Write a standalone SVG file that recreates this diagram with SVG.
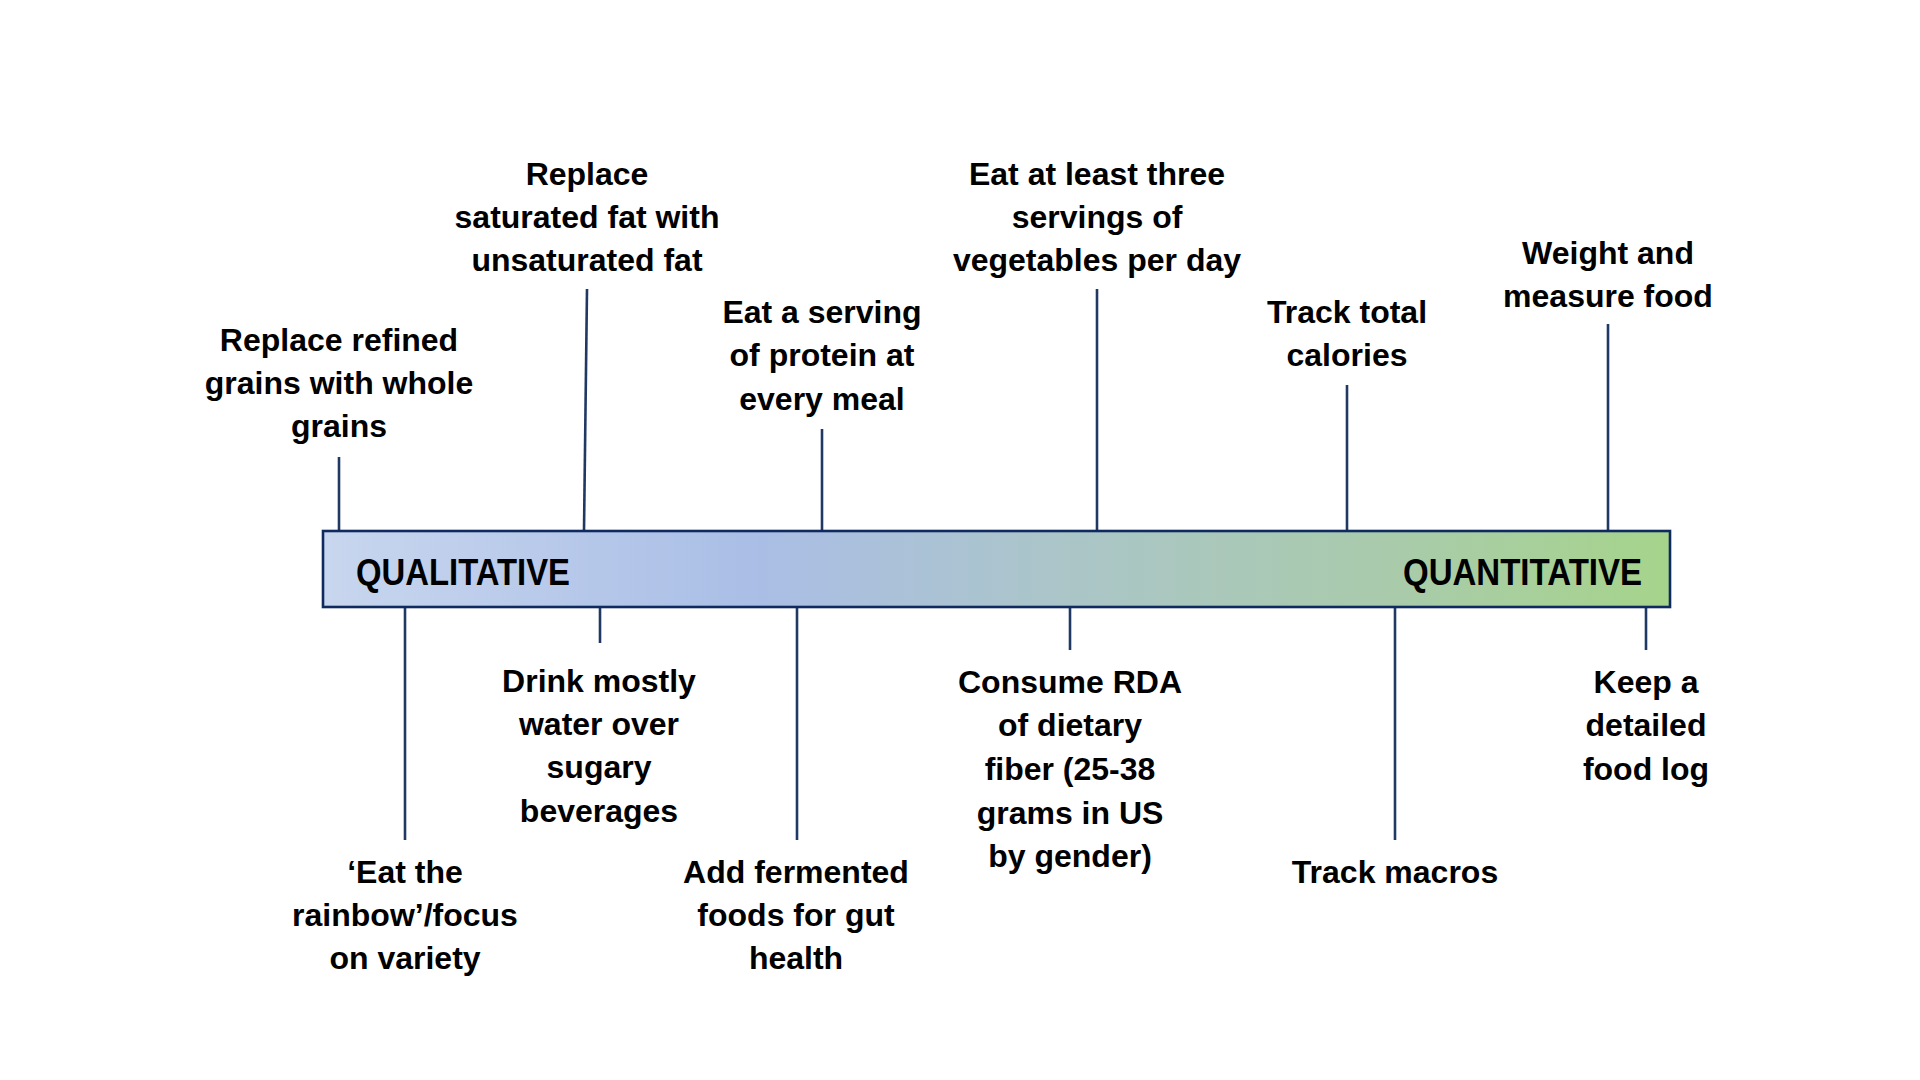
<svg xmlns="http://www.w3.org/2000/svg" width="1920" height="1080" viewBox="0 0 1920 1080">
<style>
.lbl{font-family:"Liberation Sans",Arial,sans-serif;font-weight:bold;font-size:32px;fill:#000;text-anchor:middle}
.end{font-family:"Liberation Sans",Arial,sans-serif;font-weight:bold;font-size:37px;fill:#000}
.tick{stroke:#1f3864;stroke-width:2.6;fill:none}
</style>
<defs>
<linearGradient id="g" x1="0" y1="0" x2="1" y2="0">
<stop offset="0" stop-color="#c8d6ee"/>
<stop offset="0.32" stop-color="#aabee6"/>
<stop offset="0.55" stop-color="#abc5c8"/>
<stop offset="0.8" stop-color="#a9cbaa"/>
<stop offset="1" stop-color="#a6d48b"/>
</linearGradient>
</defs>
<rect width="1920" height="1080" fill="#fff"/>
<g id="connectors">
<line class="tick" x1="339" y1="457" x2="339" y2="531"/>
<line class="tick" x1="587" y1="289" x2="584" y2="531"/>
<line class="tick" x1="822" y1="429" x2="822" y2="531"/>
<line class="tick" x1="1097" y1="289" x2="1097" y2="531"/>
<line class="tick" x1="1347" y1="385" x2="1347" y2="531"/>
<line class="tick" x1="1608" y1="324" x2="1608" y2="531"/>
<line class="tick" x1="405" y1="607" x2="405" y2="840"/>
<line class="tick" x1="600" y1="607" x2="600" y2="643"/>
<line class="tick" x1="797" y1="607" x2="797" y2="840"/>
<line class="tick" x1="1070" y1="607" x2="1070" y2="650"/>
<line class="tick" x1="1395" y1="607" x2="1395" y2="840"/>
<line class="tick" x1="1646" y1="607" x2="1646" y2="650"/>
</g>
<g id="bar">
<rect x="323" y="531" width="1347" height="76" fill="url(#g)" stroke="#0e2a5e" stroke-width="2.6"/>
<text class="end" x="356" y="585" textLength="214" lengthAdjust="spacingAndGlyphs">QUALITATIVE</text>
<text class="end" x="1403" y="585" textLength="239" lengthAdjust="spacingAndGlyphs">QUANTITATIVE</text>
</g>
<g id="n1"><text class="lbl" x="339"><tspan x="339" y="351">Replace refined</tspan><tspan x="339" y="394">grains with whole</tspan><tspan x="339" y="437">grains</tspan></text></g>
<g id="n2"><text class="lbl" x="587"><tspan x="587" y="185">Replace</tspan><tspan x="587" y="228">saturated fat with</tspan><tspan x="587" y="271">unsaturated fat</tspan></text></g>
<g id="n3"><text class="lbl" x="822"><tspan x="822" y="323">Eat a serving</tspan><tspan x="822" y="366">of protein at</tspan><tspan x="822" y="410">every meal</tspan></text></g>
<g id="n4"><text class="lbl" x="1097"><tspan x="1097" y="185">Eat at least three</tspan><tspan x="1097" y="228">servings of</tspan><tspan x="1097" y="271">vegetables per day</tspan></text></g>
<g id="n5"><text class="lbl" x="1347"><tspan x="1347" y="323">Track total</tspan><tspan x="1347" y="366">calories</tspan></text></g>
<g id="n6"><text class="lbl" x="1608"><tspan x="1608" y="264">Weight and</tspan><tspan x="1608" y="307">measure food</tspan></text></g>
<g id="n7"><text class="lbl" x="405"><tspan x="405" y="883">‘Eat the</tspan><tspan x="405" y="926">rainbow’/focus</tspan><tspan x="405" y="969">on variety</tspan></text></g>
<g id="n8"><text class="lbl" x="599"><tspan x="599" y="692">Drink mostly</tspan><tspan x="599" y="735">water over</tspan><tspan x="599" y="778">sugary</tspan><tspan x="599" y="822">beverages</tspan></text></g>
<g id="n9"><text class="lbl" x="796"><tspan x="796" y="883">Add fermented</tspan><tspan x="796" y="926">foods for gut</tspan><tspan x="796" y="969">health</tspan></text></g>
<g id="n10"><text class="lbl" x="1070"><tspan x="1070" y="693">Consume RDA</tspan><tspan x="1070" y="736">of dietary</tspan><tspan x="1070" y="780">fiber (25-38</tspan><tspan x="1070" y="824">grams in US</tspan><tspan x="1070" y="867">by gender)</tspan></text></g>
<g id="n11"><text class="lbl" x="1395" y="883">Track macros</text></g>
<g id="n12"><text class="lbl" x="1646"><tspan x="1646" y="693">Keep a</tspan><tspan x="1646" y="736">detailed</tspan><tspan x="1646" y="780">food log</tspan></text></g>
</svg>
